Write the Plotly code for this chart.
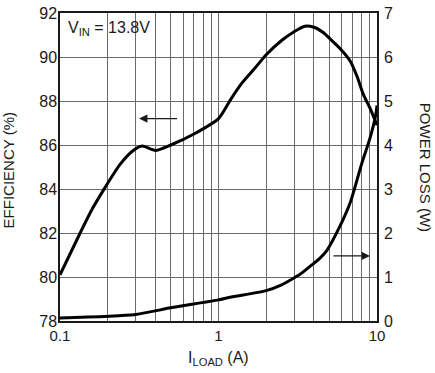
import math
import plotly.graph_objects as go

# Efficiency curve (left axis, %)
eff_load = [0.1, 0.134, 0.16, 0.188, 0.24, 0.29, 0.33, 0.4, 0.5, 0.7, 1.0, 1.2, 1.4, 1.7, 2.0, 2.5, 3.0, 3.5, 4.0, 4.6, 5.1, 6.0, 6.8, 7.5, 8.2, 9.0, 9.5, 10]
eff_vals = [80.1, 82.0, 83.1, 83.95, 85.13, 85.75, 85.95, 85.75, 86.0, 86.5, 87.2, 88.1, 88.8, 89.5, 90.1, 90.75, 91.15, 91.4, 91.35, 91.1, 90.8, 90.3, 89.8, 89.1, 88.3, 87.7, 87.3, 86.9]

# Power loss curve (right axis, W)
loss_load = [0.1, 0.3, 0.5, 1.0, 1.18, 2.0, 2.5, 2.9, 3.27, 3.96, 4.37, 4.82, 5.85, 6.76, 8.0, 9.04, 9.8, 10]
loss_vals = [0.07, 0.15, 0.3, 0.48, 0.54, 0.69, 0.82, 0.95, 1.06, 1.3, 1.43, 1.6, 2.16, 2.68, 3.57, 4.16, 4.67, 4.9]

x_tickvals = [0.1, 1, 10]
x_ticktext = ["0.1", "1", "10"]
x_minorvals = [0.2, 0.3, 0.4, 0.5, 0.6, 0.7, 0.8, 0.9, 2, 3, 4, 5, 6, 7, 8, 9]
y_left_ticks = [78, 80, 82, 84, 86, 88, 90, 92]
y_right_ticks = [0, 1, 2, 3, 4, 5, 6, 7]

FONT = "Liberation Sans Narrow, Liberation Sans, Arial"
GRID = "#6a6a6a"

fig = go.Figure()
fig.add_trace(go.Scatter(x=eff_load, y=eff_vals, mode="lines",
                         line=dict(color="black", width=3, shape="spline", smoothing=0.7),
                         yaxis="y", showlegend=False))
fig.add_trace(go.Scatter(x=loss_load, y=loss_vals, mode="lines",
                         line=dict(color="black", width=3, shape="spline", smoothing=0.7),
                         yaxis="y2", showlegend=False))

fig.update_layout(
    width=435, height=373,
    margin=dict(l=60, r=58, t=5, b=52),
    paper_bgcolor="white", plot_bgcolor="white",
    font=dict(family=FONT, size=15, color="#1a1a1a"),
    xaxis=dict(type="log", range=[-1, 1], tickvals=x_tickvals, ticktext=x_ticktext,
               showgrid=True, gridcolor=GRID, gridwidth=1,
               minor=dict(tickvals=x_minorvals, showgrid=True, gridcolor=GRID, gridwidth=1, ticks=""),
               showline=True, linecolor="#1a1a1a", linewidth=1.5, mirror=True,
               ticks="", zeroline=False, tickfont=dict(size=15)),
    yaxis=dict(range=[78, 92], tickvals=y_left_ticks,
               showgrid=True, gridcolor=GRID, gridwidth=1,
               showline=True, linecolor="#1a1a1a", linewidth=1.5, mirror=True,
               ticks="", zeroline=False, tickfont=dict(size=16),
               ticklabeloverflow="allow", ticklabelstandoff=-2),
    yaxis2=dict(range=[0, 7], tickvals=y_right_ticks, overlaying="y", side="right",
                showgrid=False, showline=False, ticks="", zeroline=False,
                tickfont=dict(size=16), ticklabeloverflow="allow", ticklabelstandoff=6),
)

annotations = [
    dict(text="V<sub>IN</sub> = 13.8V", xref="paper", yref="paper", x=0.018, y=0.988,
         xanchor="left", yanchor="top", showarrow=False, font=dict(size=16)),
    dict(text="EFFICIENCY (%)", xref="paper", yref="paper", x=-0.163, y=0.49,
         xanchor="center", yanchor="middle", textangle=-90, showarrow=False, font=dict(size=15)),
    dict(text="POWER LOSS (W)", xref="paper", yref="paper", x=1.155, y=0.5,
         xanchor="center", yanchor="middle", textangle=90, showarrow=False, font=dict(size=15)),
    dict(text="I<sub>LOAD</sub> (A)", xref="paper", yref="paper", x=0.5, y=-0.085,
         xanchor="center", yanchor="top", showarrow=False, font=dict(size=16)),
    # arrows (log10 coords on log axis)
    dict(x=math.log10(0.315), y=87.2, ax=math.log10(0.56), ay=87.2, xref="x", yref="y",
         axref="x", ayref="y", text="", showarrow=True, arrowhead=2, arrowsize=1.3,
         arrowwidth=1.3, arrowcolor="#1a1a1a"),
    dict(x=math.log10(9.04), y=1.48, ax=math.log10(5.2), ay=1.48, xref="x", yref="y2",
         axref="x", ayref="y2", text="", showarrow=True, arrowhead=2, arrowsize=1.3,
         arrowwidth=1.3, arrowcolor="#1a1a1a"),
]
fig.update_layout(annotations=annotations)

fig.write_html("out.html", config={"displayModeBar": False},
               post_script="document.body.style.margin='0';")
